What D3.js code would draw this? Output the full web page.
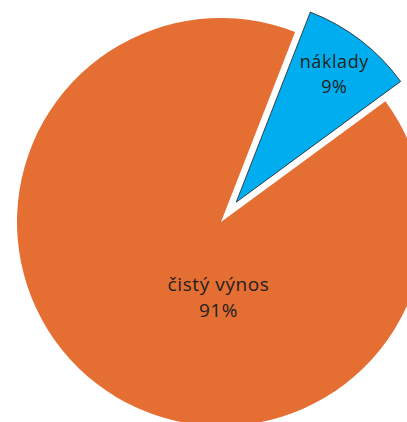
<!DOCTYPE html>
<html>
<head>
<meta charset="utf-8">
<script src="https://cdn.jsdelivr.net/npm/d3@7"></script>
<style>
  html, body { margin: 0; padding: 0; background: #fff; }
  svg { display: block; }
  text { font-family: "Open Sans", "Noto Sans", sans-serif; fill: #231f20; }
</style>
</head>
<body>
<svg id="chart" width="407" height="422"></svg>
<script>
// Share of revenue: costs vs. net yield
const categories = ["náklady", "čistý výnos"];
const values = [9, 91];
const labels = ["9%", "91%"];
const colors = ["#00aeef", "#e56e33"];

const svg = d3.select("#chart");
const cx = 221, cy = 222, radius = 204;
const explode = 25;
const startDeg = 21.3;

const pie = d3.pie()
  .sort(null)
  .value(d => d.value)
  .startAngle(startDeg * Math.PI / 180)
  .endAngle(startDeg * Math.PI / 180 + 2 * Math.PI);

const data = categories.map((c, i) => ({ name: c, value: values[i], label: labels[i], color: colors[i] }));
const arcs = pie(data);

const arc = d3.arc().innerRadius(0).outerRadius(radius);

const g = svg.append("g").attr("transform", `translate(${cx},${cy})`);

// draw the big slice first, then the exploded small slice
const order = [1, 0];
order.forEach(i => {
  const a = arcs[i];
  const mid = (a.startAngle + a.endAngle) / 2;
  const off = i === 0 ? explode : 0;
  const dx = Math.sin(mid) * off, dy = -Math.cos(mid) * off;
  const sg = g.append("g").attr("transform", `translate(${dx},${dy})`);
  sg.append("path")
    .attr("d", arc(a))
    .attr("fill", a.data.color)
    .attr("stroke", i === 0 ? "#231f20" : "none")
    .attr("stroke-width", i === 0 ? 0.8 : 0);

  let lx, ly, gap, size;
  if (i === 0) {
    const la = d3.arc().innerRadius(radius * 0.79).outerRadius(radius * 0.79);
    [lx, ly] = la.centroid(a);
    ly -= 6;
    gap = 24.5;
    size = 18;
  } else {
    lx = -2.5; ly = 69;
    gap = 26;
    size = 19;
  }
  const t = sg.append("text")
    .attr("text-anchor", "middle")
    .attr("font-size", size)
    .attr("letter-spacing", 0.6)
    .attr("x", lx).attr("y", ly);
  t.append("tspan").attr("x", lx).attr("dy", 0).text(a.data.name);
  t.append("tspan").attr("x", lx).attr("dy", gap).text(a.data.label);
});
</script>
</body>
</html>
